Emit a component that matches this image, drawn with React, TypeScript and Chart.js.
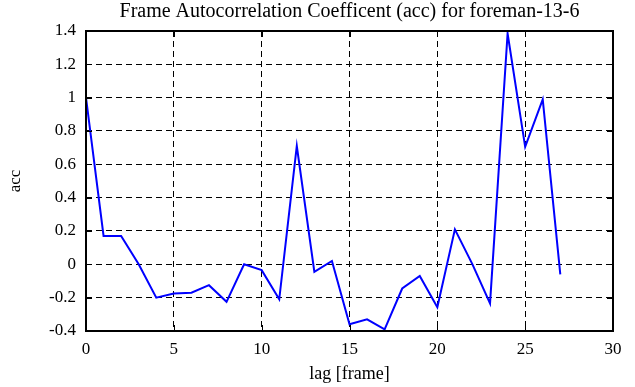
import React, { useEffect, useRef } from "react";
import { Chart, registerables } from "chart.js";

Chart.register(...registerables);

const lags = [0, 1, 2, 3, 4, 5, 6, 7, 8, 9, 10, 11, 12, 13, 14, 15, 16, 17, 18, 19, 20, 21, 22, 23, 24, 25, 26, 27];
const accValues = [
  1.0, 0.17, 0.17, 0.0, -0.2, -0.175, -0.17, -0.125, -0.225, 0.0,
  -0.035, -0.21, 0.71, -0.045, 0.02, -0.36, -0.33, -0.39, -0.145, -0.07,
  -0.258, 0.21, 0.0, -0.234, 1.385, 0.705, 0.99, -0.06,
];
const xTicks = [0, 5, 10, 15, 20, 25, 30];
const yTicks = [-0.4, -0.2, 0, 0.2, 0.4, 0.6, 0.8, 1, 1.2, 1.4];

const titleText = "Frame Autocorrelation Coefficent (acc) for foreman-13-6";
const xTitle = "lag [frame]";
const yTitle = "acc";

const FONT = "'Liberation Serif', 'Times New Roman', serif";

const framePlugin = {
  id: "frameAndInnerTicks",
  afterDatasetsDraw(chart: any) {
    const { ctx, chartArea, scales } = chart;
    const { left, right, top, bottom } = chartArea;
    const tl = 6;
    ctx.save();
    ctx.strokeStyle = "#000";
    ctx.lineWidth = 1;
    ctx.setLineDash([]);
    ctx.beginPath();
    for (const v of xTicks) {
      const x = Math.round(scales.x.getPixelForValue(v)) + 0.5;
      ctx.moveTo(x, bottom);
      ctx.lineTo(x, bottom - tl);
      ctx.moveTo(x, top);
      ctx.lineTo(x, top + tl);
    }
    for (const v of yTicks) {
      const y = Math.round(scales.y.getPixelForValue(v)) + 0.5;
      ctx.moveTo(left, y);
      ctx.lineTo(left + tl, y);
      ctx.moveTo(right, y);
      ctx.lineTo(right - tl, y);
    }
    ctx.stroke();
    ctx.lineWidth = 2;
    ctx.strokeRect(left, top, right - left, bottom - top);
    ctx.restore();
  },
};

export default function App() {
  const ref = useRef<HTMLCanvasElement>(null);

  useEffect(() => {
    document.body.style.margin = "0";
    const canvas = ref.current;
    if (!canvas) return;
    const chart = new Chart(canvas, {
      type: "line",
      data: {
        datasets: [
          {
            data: lags.map((l, i) => ({ x: l, y: accValues[i] })),
            borderColor: "#0000ff",
            borderWidth: 2,
            pointRadius: 0,
            tension: 0,
            fill: false,
          },
        ],
      },
      options: {
        responsive: false,
        animation: false,
        devicePixelRatio: 1,
        layout: { padding: { left: 0, right: 22, top: 0, bottom: 0 } },
        plugins: {
          legend: { display: false },
          tooltip: { enabled: false },
          title: {
            display: true,
            fullSize: false,
            text: titleText,
            color: "#000",
            font: { family: FONT, size: 20, weight: "normal" },
            padding: { top: 0, bottom: 7 },
          },
        },
        scales: {
          x: {
            type: "linear",
            min: 0,
            max: 30,
            afterBuildTicks: (s: any) => {
              s.ticks = xTicks.map((v) => ({ value: v }));
            },
            afterFit: (s: any) => {
              s.height = 56;
            },
            ticks: {
              color: "#000",
              font: { family: FONT, size: 17 },
              padding: 8,
              maxRotation: 0,
              autoSkip: false,
            },
            grid: {
              color: "#000",
              lineWidth: 1,
              drawTicks: false,
            },
            border: { display: false, dash: [6, 4] },
            title: {
              display: true,
              text: xTitle,
              color: "#000",
              font: { family: FONT, size: 18 },
              padding: { top: 0, bottom: 2 },
            },
          },
          y: {
            type: "linear",
            min: -0.4,
            max: 1.4,
            afterBuildTicks: (s: any) => {
              s.ticks = yTicks.map((v) => ({ value: v }));
            },
            afterFit: (s: any) => {
              s.width = 86;
            },
            ticks: {
              color: "#000",
              font: { family: FONT, size: 17 },
              padding: 10,
              autoSkip: false,
              callback: (v: any) => String(Number(Number(v).toFixed(1))),
            },
            grid: {
              color: "#000",
              lineWidth: 1,
              drawTicks: false,
            },
            border: { display: false, dash: [6, 4] },
            title: {
              display: true,
              text: yTitle,
              color: "#000",
              font: { family: FONT, size: 17 },
              padding: { top: 5, bottom: 0 },
            },
          },
        },
      },
      plugins: [framePlugin],
    });
    return () => chart.destroy();
  }, []);

  return <canvas ref={ref} width={635} height={387} style={{ display: "block" }} />;
}
